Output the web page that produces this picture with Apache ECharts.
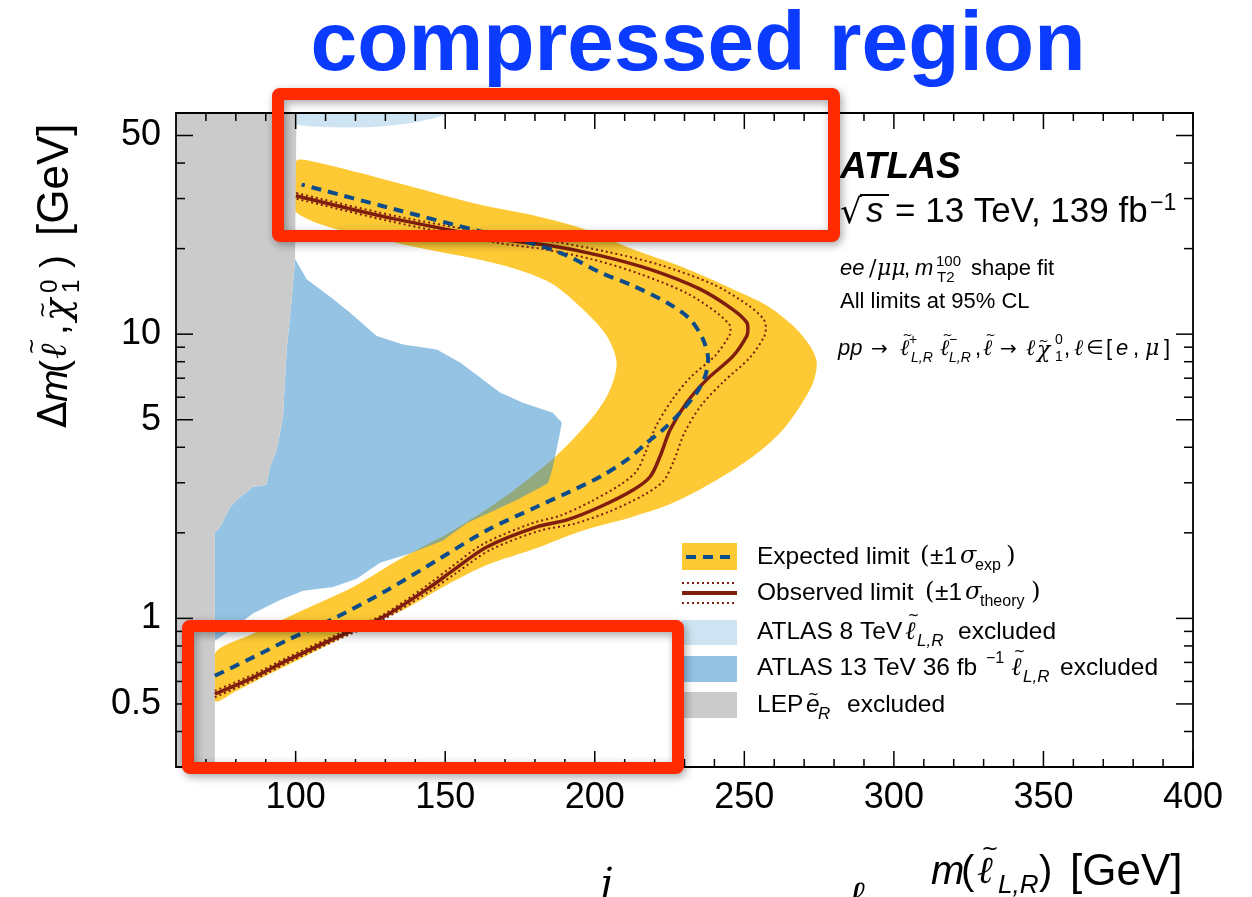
<!DOCTYPE html>
<html>
<head>
<meta charset="utf-8">
<script src="https://cdn.jsdelivr.net/npm/echarts@6/dist/echarts.min.js"></script>
<style>
  html, body { margin: 0; padding: 0; background: #ffffff; }
  #chart { width: 1252px; height: 897px; }
</style>
</head>
<body>
<div id="chart"></div>
<script>
// ---- axis ranges and tick labels ----
const xRange = [60, 400];
const yRange = [0.3, 60];
const xTickLabels = [100, 150, 200, 250, 300, 350, 400];
const yTickLabels = [0.5, 1, 5, 10, 50];

// ---- exclusion contours, points are [m(slepton) GeV, delta m GeV] ----
// LEP selectron exclusion: right-hand boundary, top to bottom
const lepEdge = [
  [100.3, 60], [100.1, 40], [99.8, 18.4], [98.7, 13.3], [97.0, 8.84], [96.4, 6.76],
  [95.8, 5.12], [93.7, 3.92], [91.4, 3.41], [90.3, 2.95], [85.7, 2.90], [81.4, 2.67],
  [78.1, 2.47], [74.7, 2.09], [73.0, 2.0], [73.0, 0.3]
];
// ATLAS 8 TeV exclusion (lower boundary of the region above)
const atlas8Edge = [
  [100.3, 60], [100.2, 54.5], [105, 53.8], [115, 53.4], [125, 53.5], [133, 54.3],
  [140, 55.6], [146, 57.4], [150, 59.2], [152, 60]
];
// ATLAS 13 TeV 36 fb-1 exclusion (closed contour)
const atlas13Edge = [
  [99.8, 18.4], [103.7, 15.6], [112.5, 13.3], [118.2, 11.9], [127.1, 9.85], [135.9, 9.2],
  [147.2, 8.84], [155.0, 7.95], [168.3, 6.23], [176.0, 5.74], [186.0, 5.29], [189.0, 4.88],
  [187.7, 4.15], [186.0, 3.41], [184.4, 2.99], [173.9, 2.61], [157.2, 2.16], [149.3, 1.88],
  [138.2, 1.69], [128.2, 1.57], [120.4, 1.38], [112.5, 1.29], [102.5, 1.25], [94.8, 1.16],
  [85.7, 1.04], [78.1, 0.906], [73.0, 0.835], [73.0, 2.0], [74.7, 2.09], [78.1, 2.47],
  [81.4, 2.67], [85.7, 2.90], [90.3, 2.95], [91.4, 3.41], [93.7, 3.92], [95.8, 5.12],
  [96.4, 6.76], [97.0, 8.84], [98.7, 13.3]
];
// expected +-1 sigma band: outer edge (top-left round the tip to bottom-left)
const expBandOuter = [
  [100.1, 40.5], [105.8, 40.5], [132.6, 34.4], [162.5, 28.4], [179.4, 26.2], [196.1, 23.5],
  [212.8, 19.9], [229.5, 17.2], [246.2, 14.4], [257.6, 12.6], [266.3, 10.7], [272.0, 9.08],
  [274.2, 7.95], [273.0, 6.76], [268.6, 5.57], [261.9, 4.49], [252.9, 3.71], [240.8, 3.07],
  [226.2, 2.55], [212.8, 2.28], [196.1, 2.04], [179.4, 1.75], [163.9, 1.54], [149.3, 1.29],
  [135.9, 1.07], [124.9, 0.96], [113.7, 0.836], [102.5, 0.729], [91.4, 0.638], [80.3, 0.556],
  [73.0, 0.513]
];
// expected +-1 sigma band: inner edge (bottom-left round to top-left)
const expBandInner = [
  [73.0, 0.751], [85.7, 0.883], [102.5, 1.07], [119.2, 1.29], [135.9, 1.64], [152.6, 2.04],
  [169.3, 2.65], [186.7, 3.70], [199.4, 5.12], [205.1, 6.38], [207.3, 7.95], [204.0, 9.85],
  [196.1, 12.2], [185.0, 15.2], [168.3, 17.6], [132.6, 21.1], [100.1, 26.9]
];
// expected limit
const expectedLimit = [
  [73.0, 0.628], [85.7, 0.729], [97.0, 0.836], [113.7, 1.01], [130.4, 1.254], [147.2, 1.60],
  [163.9, 2.04], [180.6, 2.47], [190.6, 2.76], [201.8, 3.15], [210.7, 3.61], [217.4, 4.15],
  [222.8, 4.61], [228.5, 5.29], [234.1, 6.23], [236.9, 7.11], [237.9, 8.15], [236.2, 9.59],
  [231.8, 11.3], [224.2, 12.9], [212.8, 14.8], [201.8, 16.5], [190.7, 18.9], [179.4, 20.8],
  [162.5, 22.9], [132.6, 27.6], [102.0, 33.6]
];
// observed limit
const observedLimit = [
  [73.0, 0.542], [85.7, 0.619], [97.0, 0.710], [113.7, 0.858], [129.2, 1.01], [144.9, 1.288],
  [152.6, 1.475], [163.9, 1.784], [180.6, 2.10], [190.7, 2.22], [201.8, 2.47], [212.8, 2.83],
  [218.5, 3.15], [221.8, 3.71], [225.2, 4.61], [230.7, 5.74], [237.4, 6.92], [246.2, 8.37],
  [250.8, 9.85], [251.2, 10.4], [250.8, 11.0], [246.2, 12.2], [235.2, 14.4], [218.5, 16.9],
  [201.8, 18.9], [185.0, 20.5], [168.3, 21.6], [132.6, 25.5], [100.1, 30.7]
];
// observed limit, +1 sigma theory
const observedUp = [
  [73.0, 0.528], [85.7, 0.605], [97.0, 0.695], [113.7, 0.84], [129.2, 0.99], [145.5, 1.26],
  [153.5, 1.44], [165.0, 1.74], [182.0, 2.04], [193.0, 2.15], [205.0, 2.38], [216.5, 2.72],
  [223.0, 3.05], [226.5, 3.6], [230.0, 4.5], [235.5, 5.6], [243.0, 6.8], [252.0, 8.3],
  [256.6, 9.8], [257.2, 10.5], [256.4, 11.3], [251.5, 12.6], [240.0, 14.9], [222.0, 17.5],
  [204.0, 19.5], [187.0, 21.1], [169.5, 22.2], [133.0, 26.1], [100.1, 31.4]
];
// observed limit, -1 sigma theory
const observedDown = [
  [73.0, 0.556], [85.7, 0.634], [97.0, 0.726], [113.7, 0.876], [129.2, 1.03], [144.3, 1.315],
  [151.8, 1.51], [162.8, 1.83], [179.0, 2.16], [188.5, 2.30], [198.5, 2.57], [208.5, 2.95],
  [214.0, 3.3], [217.0, 3.85], [220.5, 4.75], [226.0, 5.9], [232.0, 7.05], [240.5, 8.45],
  [245.0, 9.9], [245.4, 10.35], [245.0, 10.8], [241.0, 11.85], [231.0, 13.9], [215.0, 16.3],
  [199.5, 18.3], [183.0, 19.9], [167.0, 21.0], [132.0, 24.9], [100.1, 30.0]
];

// ---- styling ----
const SANS = "'Liberation Sans', Arial, Helvetica, sans-serif";
const SERIF = "'DejaVu Serif', serif";
const SYM = "'DejaVu Sans', sans-serif";
const C = {
  yellow: '#fdca35',
  blue13: 'rgba(42,136,201,0.5)',
  blue8: '#cfe4f3',
  lep: '#cbcbcb',
  exp: '#0d4c8a',
  obs: '#7f1d0f',
  red: '#ff2a00',
  title: '#0b3bff'
};

// closed filled region drawn through the grid's scales
function region(name, pts, fill, smooth) {
  return {
    type: 'custom', name: name, data: pts, clip: true, silent: true,
    renderItem: function (params, api) {
      if (params.dataIndex !== 0) return null;
      return {
        type: 'polygon',
        shape: { points: pts.map(function (p) { return api.coord(p); }), smooth: smooth || 0 },
        style: { fill: fill }
      };
    }
  };
}

function curve(name, pts, color, width, dash) {
  return {
    type: 'line', name: name, data: pts, symbol: 'none', showSymbol: false,
    smooth: 0.3, clip: true, silent: true,
    lineStyle: { color: color, width: width, type: dash || 'solid', cap: 'butt' }
  };
}

// minor/major tick positions
const xTicks = [];
for (let v = xRange[0] + 10; v < xRange[1] + 1; v += 10) xTicks.push([v, yRange[0]]);
const yTicks = [];
[0.1, 1, 10].forEach(function (d) {
  for (let k = 1; k <= 9; k++) {
    const v = Math.round(k * d * 1000) / 1000;
    if (v > yRange[0] && v < yRange[1]) yTicks.push([xRange[0], v]);
  }
});
function isLabel(list, v) { return list.some(function (t) { return Math.abs(t - v) < 1e-9; }); }

const tickFont = { fontSize: 36, fontFamily: SANS, fill: '#000' };

const xTickSeries = {
  type: 'custom', name: 'xticks', data: xTicks, clip: false, silent: true,
  renderItem: function (params, api) {
    const v = api.value(0);
    const b = api.coord([v, yRange[0]]);
    const t = api.coord([v, yRange[1]]);
    const major = v % 50 === 0;
    const len = major ? 16 : 8;
    const ls = { stroke: '#000', lineWidth: 1.5 };
    const children = [
      { type: 'line', shape: { x1: b[0], y1: b[1], x2: b[0], y2: b[1] - len }, style: ls },
      { type: 'line', shape: { x1: t[0], y1: t[1], x2: t[0], y2: t[1] + len }, style: ls }
    ];
    if (isLabel(xTickLabels, v)) {
      children.push({ type: 'text', x: b[0], y: b[1] + 31,
        style: Object.assign({ text: String(v), align: 'center', verticalAlign: 'middle' }, tickFont) });
    }
    return { type: 'group', children: children };
  }
};

const yTickSeries = {
  type: 'custom', name: 'yticks', data: yTicks, clip: false, silent: true,
  renderItem: function (params, api) {
    const v = api.value(1);
    const l = api.coord([xRange[0], v]);
    const r = api.coord([xRange[1], v]);
    const major = isLabel(yTickLabels, v);
    const len = major ? 17 : 9;
    const ls = { stroke: '#000', lineWidth: 1.5 };
    const children = [
      { type: 'line', shape: { x1: l[0], y1: l[1], x2: l[0] + len, y2: l[1] }, style: ls },
      { type: 'line', shape: { x1: r[0], y1: r[1], x2: r[0] - len, y2: r[1] }, style: ls }
    ];
    if (major) {
      children.push({ type: 'text', x: l[0] - 15, y: l[1],
        style: Object.assign({ text: String(v), align: 'right', verticalAlign: 'middle' }, tickFont) });
    }
    if (params.dataIndex === 0) {
      const cs = params.coordSys;
      children.push({ type: 'rect', shape: { x: cs.x, y: cs.y, width: cs.width, height: cs.height },
        style: { fill: 'none', stroke: '#000', lineWidth: 1.8 } });
    }
    return { type: 'group', children: children };
  }
};

// ---- text helpers for labels and annotations ----
function T(x, y, text, size, o) {
  o = o || {};
  return {
    type: 'text', x: x, y: y, silent: true,
    style: {
      text: text, fontSize: size,
      fontFamily: o.family || SANS,
      fontStyle: o.italic ? 'italic' : 'normal',
      fontWeight: o.bold ? 'bold' : 'normal',
      fill: o.color || '#000',
      align: o.align || 'left', verticalAlign: 'middle'
    }
  };
}
// glyph with a tilde accent placed over it
function TT(x, y, text, size, o, low) {
  const dx = low ? 0.30 : 0.34;
  const dy = low ? 0.40 : 0.62;
  return [
    T(x, y, text, size, o),
    T(x + dx * size, y - dy * size, '~', size * 0.55, { family: SYM, align: 'center' })
  ];
}
function L(x1, y1, x2, y2, stroke, width, dash) {
  return { type: 'line', silent: true, shape: { x1: x1, y1: y1, x2: x2, y2: y2 },
    style: { stroke: stroke, lineWidth: width, lineDash: dash || null } };
}
function R(x, y, w, h, fill) {
  return { type: 'rect', silent: true, shape: { x: x, y: y, width: w, height: h }, style: { fill: fill } };
}
const ELL = '\u2113';
const CHI = '\u03C7';
const it = { italic: true };
const mathIt = { italic: true, family: SERIF };

// annotation block inside the frame
const infoBlock = [].concat(
  T(840, 168, 'ATLAS', 37, { bold: true, italic: true }),
  T(840, 214, '\u221A', 34, { family: SYM }),
  L(860, 195, 889, 195, '#000', 2),
  T(866, 212, 's', 35, it),
  T(895, 212, '= 13 TeV, 139 fb', 35),
  T(1150, 204, '\u22121', 23),

  T(840, 269, 'ee', 22, it),
  T(869, 269, '/', 22, { family: SERIF }),
  T(877, 269, '\u03BC\u03BC', 22, mathIt),
  T(904, 269, ',', 22),
  T(915, 269, 'm', 22, it),
  T(936, 262, '100', 15),
  T(937, 278, 'T2', 15),
  T(971, 269, 'shape fit', 22),

  T(840, 302, 'All limits at 95% CL', 22),

  T(838, 349, 'pp', 22, it),
  T(871, 350, '\u2192', 20, { family: SYM }),
  TT(900, 349, ELL, 22, mathIt),
  T(909, 340, '+', 14),
  T(911, 358, 'L,R', 14, it),
  TT(940, 349, ELL, 22, mathIt),
  T(949, 340, '\u2212', 14),
  T(949, 358, 'L,R', 14, it),
  T(975, 349, ',', 22),
  TT(983, 349, ELL, 22, mathIt),
  T(1000, 350, '\u2192', 20, { family: SYM }),
  T(1026, 349, ELL, 22, mathIt),
  TT(1037, 351, CHI, 22, mathIt, true),
  T(1055, 340, '0', 14),
  T(1055, 357, '1', 14),
  T(1064, 349, ',', 22),
  T(1074, 349, ELL, 22, mathIt),
  T(1086, 349, '\u2208', 20, { family: SYM }),
  T(1106, 349, '[', 22),
  T(1116, 349, 'e', 22, it),
  T(1133, 349, ',', 22),
  T(1145, 349, '\u03BC', 22, mathIt),
  T(1164, 349, ']', 22)
);

// legend, drawn item by item
const LX = 682, LW = 55, TX = 757, LF = 24.5;
const legendBlock = [].concat(
  R(LX, 543, LW, 27, C.yellow),
  L(LX + 4, 557, LX + LW, 557, C.exp, 4, [10, 7]),
  T(TX, 557, 'Expected limit', LF),
  T(920, 557, '(', LF, { family: SERIF }),
  T(930, 557, '\u00B11', LF),
  T(960, 557, '\u03C3', 24, mathIt),
  T(975, 566, 'exp', 16),
  T(1006, 557, ')', LF, { family: SERIF }),

  L(LX, 593, LX + LW, 593, C.obs, 4),
  L(LX, 583, LX + LW, 583, C.obs, 2, [2, 3]),
  L(LX, 603, LX + LW, 603, C.obs, 2, [2, 3]),
  T(TX, 593, 'Observed limit', LF),
  T(925, 593, '(', LF, { family: SERIF }),
  T(935, 593, '\u00B11', LF),
  T(965, 593, '\u03C3', 24, mathIt),
  T(980, 602, 'theory', 16),
  T(1031, 593, ')', LF, { family: SERIF }),

  R(LX, 620, LW, 25, C.blue8),
  T(TX, 632, 'ATLAS 8 TeV', LF),
  TT(905, 632, ELL, 25, mathIt),
  T(917, 641, 'L,R', 17, it),
  T(958, 632, 'excluded', LF),

  R(LX, 656, LW, 26, C.blue13),
  T(TX, 668, 'ATLAS 13 TeV 36 fb', LF),
  T(986, 659, '\u22121', 16),
  TT(1011, 668, ELL, 25, mathIt),
  T(1023, 677, 'L,R', 17, it),
  T(1060, 668, 'excluded', LF),

  R(LX, 692, LW, 26, C.lep),
  T(TX, 705, 'LEP', LF),
  TT(806, 705, 'e', LF, it, true),
  T(818, 714, 'R', 17, it),
  T(847, 705, 'excluded', LF)
);

// axis titles
const xTitle = [].concat(
  T(931, 873, 'm', 40, it),
  T(961, 873, '(', 40),
  TT(977, 873, ELL, 38, mathIt),
  T(998, 886, 'L,R', 26, it),
  T(1039, 873, ')', 40),
  T(1070, 873, '[GeV]', 44)
);
const yTitleGroup = {
  type: 'group', x: 70, y: 428, rotation: Math.PI / 2, silent: true,
  children: [].concat(
    T(0, -14, '\u0394', 39, { family: SYM }),
    T(26, -14, 'm', 39, it),
    T(55, -14, '(', 39),
    TT(69, -14, ELL, 37, mathIt),
    T(93, -14, ',', 39),
    TT(107, -11, CHI, 37, mathIt, true),
    T(135, -20, '0', 24),
    T(135, 2, '1', 24),
    T(160, -14, ')', 39),
    T(192, -14, '[GeV]', 44)
  )
};

// slide annotations
const redBox = function (x, y, w, h) {
  return {
    type: 'rect', silent: true, z: 100,
    shape: { x: x, y: y, width: w, height: h, r: 2 },
    style: { fill: 'none', stroke: C.red, lineWidth: 12, lineJoin: 'round',
      shadowBlur: 8, shadowColor: 'rgba(0,0,0,0.35)', shadowOffsetX: 2, shadowOffsetY: 3 }
  };
};
const slideBlock = [
  Object.assign(T(698, 47, 'compressed region', 84, { bold: true, color: C.title, align: 'center' }), { z: 90 }),
  redBox(278, 94, 556, 142),
  redBox(188, 626, 490, 142),
  T(600, 886, 'j', 40, mathIt),
  T(848, 899, ELL, 40, mathIt)
];

const chart = echarts.init(document.getElementById('chart'), null, { renderer: 'canvas' });
chart.setOption({
  animation: false,
  backgroundColor: '#ffffff',
  grid: { left: 176, top: 113, width: 1017, height: 654, containLabel: false },
  xAxis: {
    type: 'value', min: xRange[0], max: xRange[1],
    axisLine: { show: false }, axisTick: { show: false }, axisLabel: { show: false }, splitLine: { show: false }
  },
  yAxis: {
    type: 'log', logBase: 10, min: yRange[0], max: yRange[1],
    axisLine: { show: false }, axisTick: { show: false }, axisLabel: { show: false },
    splitLine: { show: false }, minorSplitLine: { show: false }
  },
  series: [
    region('ATLAS 8 TeV excluded', atlas8Edge, C.blue8, 0),
    region('Expected limit band', expBandOuter.concat(expBandInner), C.yellow, 0.3),
    region('ATLAS 13 TeV 36 fb-1 excluded', atlas13Edge, C.blue13, 0),
    curve('Observed +1 sigma theory', observedUp, C.obs, 2, [2, 3]),
    curve('Observed -1 sigma theory', observedDown, C.obs, 2, [2, 3]),
    curve('Observed limit', observedLimit, C.obs, 3.5),
    curve('Expected limit', expectedLimit, C.exp, 4, [10, 7]),
    region('LEP excluded', [[xRange[0], yRange[1]]].concat(lepEdge, [[xRange[0], yRange[0]]]), C.lep, 0),
    xTickSeries,
    yTickSeries
  ],
  graphic: [].concat(infoBlock, legendBlock, xTitle, [yTitleGroup], slideBlock)
});
</script>
</body>
</html>
